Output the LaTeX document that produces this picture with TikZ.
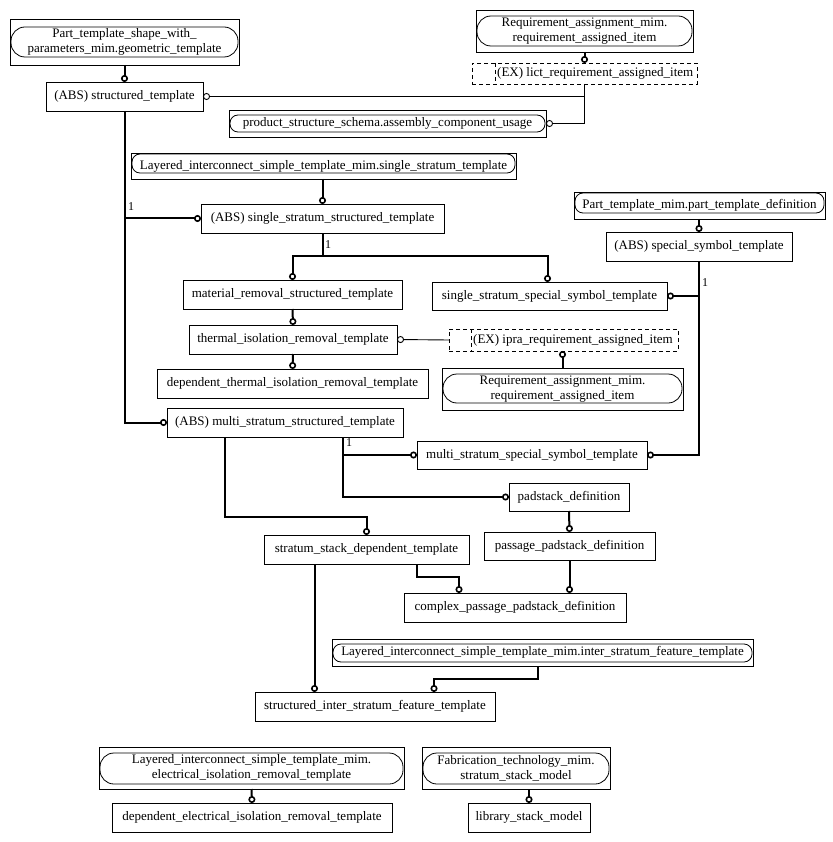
\documentclass[tikz,border=0pt]{standalone}
\usepackage{fontspec}
\setmainfont{Liberation Serif}
\usetikzlibrary{arrows.meta}
\newcommand\mybox[6]{\node[box, minimum width={(#4-#2)*1pt}, minimum height={(#5-#3)*1pt}] (#1) at ({(#2+#4)/2},{-(#3+#5)/2}) {#6};}
\begin{document}
\begin{tikzpicture}[x=1pt,y=1pt,
  box/.style={draw, line width=0.9pt, inner sep=0pt, outer sep=0pt, align=center, font=\fontsize{13}{15}\selectfont},
  pill/.style={line width=0.8pt, rounded corners=8pt},
  bigpill/.style={line width=0.8pt, rounded corners=14pt},
  dbox/.style={draw, line width=0.9pt, dash pattern=on 4pt off 3pt, inner sep=0pt, outer sep=0pt},
  dtext/.style={anchor=west, inner sep=0pt, font=\fontsize{13}{15}\selectfont},
  conn/.style={line width=2pt, -{Circle[open,length=7pt,width=7pt,line width=1.6pt]}},
  tconn/.style={line width=0.9pt, -{Circle[open,length=7pt,width=7pt,line width=0.9pt]}},
  lbl/.style={inner sep=0pt, font=\fontsize{12}{14}\selectfont}]
\path[use as bounding box] (0,0) rectangle (832,-842);

% double boxes
\mybox{geom}{10}{19}{239}{65}{Part\_template\_shape\_with\_\\parameters\_mim.geometric\_template}
\draw[bigpill] (11,-27) rectangle (238,-57);
\mybox{reqt}{476}{10}{693}{52}{Requirement\_assignment\_mim.\\requirement\_assigned\_item}
\draw[bigpill] (477,-16) rectangle (692,-46);
\mybox{acu}{229}{110}{546}{137}{product\_structure\_schema.assembly\_component\_usage}
\draw[pill] (230,-115) rectangle (545,-132);
\mybox{lss}{131}{153}{516}{179}{Layered\_interconnect\_simple\_template\_mim.single\_stratum\_template}
\draw[pill] (132,-154) rectangle (515,-173);
\mybox{ptd}{574}{192}{825}{219}{Part\_template\_mim.part\_template\_definition}
\draw[pill] (575,-193) rectangle (824,-213);
\mybox{reqb}{442}{368}{683}{410}{Requirement\_assignment\_mim.\\requirement\_assigned\_item}
\draw[bigpill] (443,-374) rectangle (682,-403);
\mybox{lisf}{332}{639}{753}{666}{Layered\_interconnect\_simple\_template\_mim.inter\_stratum\_feature\_template}
\draw[pill] (333,-644) rectangle (752,-662);
\mybox{lei}{99}{747}{404}{789}{Layered\_interconnect\_simple\_template\_mim.\\electrical\_isolation\_removal\_template}
\draw[bigpill] (100,-753) rectangle (403,-784);
\mybox{fab}{422}{747}{610}{789}{Fabrication\_technology\_mim.\\stratum\_stack\_model}
\draw[bigpill] (423,-753) rectangle (609,-784);

% plain boxes
\mybox{struct}{46}{82}{203}{111}{(ABS) structured\_template}
\mybox{sss}{201}{204}{444}{233}{(ABS) single\_stratum\_structured\_template}
\mybox{spec}{606}{232}{792}{261}{(ABS) special\_symbol\_template}
\mybox{mat}{183}{280}{402}{309}{material\_removal\_structured\_template}
\mybox{ssst}{432}{282}{667}{310}{single\_stratum\_special\_symbol\_template}
\mybox{therm}{189}{325}{397}{354}{thermal\_isolation\_removal\_template}
\mybox{dtherm}{157}{369}{428}{398}{dependent\_thermal\_isolation\_removal\_template}
\mybox{mst}{167}{408}{403}{437}{(ABS) multi\_stratum\_structured\_template}
\mybox{msst}{417}{441}{647}{469}{multi\_stratum\_special\_symbol\_template}
\mybox{pad}{509}{483}{629}{511}{padstack\_definition}
\mybox{pass}{484}{532}{655}{560}{passage\_padstack\_definition}
\mybox{ssd}{264}{535}{469}{564}{stratum\_stack\_dependent\_template}
\mybox{cpp}{404}{593}{626}{622}{complex\_passage\_padstack\_definition}
\mybox{sisf}{255}{692}{495}{721}{structured\_inter\_stratum\_feature\_template}
\mybox{dei}{112}{803}{392}{832}{dependent\_electrical\_isolation\_removal\_template}
\mybox{lib}{468}{803}{590}{832}{library\_stack\_model}

% dashed boxes
\node[dbox, minimum width=225pt, minimum height=21pt] (lict) at (584.5,-73.5) {};
\draw[line width=0.9pt, dash pattern=on 4pt off 3pt] (495,-63) -- (495,-84);
\node[dtext] (lictt) at (497,-73.5) {(EX) lict\_requirement\_assigned\_item};
\node[dbox, minimum width=229pt, minimum height=22pt] (ipra) at (563.5,-340) {};
\draw[line width=0.9pt, dash pattern=on 4pt off 3pt] (471,-329) -- (471,-351);
\node[dtext] (ipratt) at (473,-340) {(EX) ipra\_requirement\_assigned\_item};

% connectors
\draw[conn] (geom.south) -- (struct.north);
\draw[conn] (struct.south) |- (mst.west);
\draw[conn] (struct.south |- sss.west) -- (sss.west);
\draw[conn] (sss.north |- lss.south) -- (sss.north);
\draw[conn] (sss.south) -- ++(0,-23) -| (mat.north);
\draw[conn] (sss.south) -- ++(0,-23) -| ([xshift=-2pt]ssst.north);
\draw[conn] (mat.south) -- (therm.north);
\draw[conn] (therm.south) -- (dtherm.north);
\draw[tconn] (ipra.west) -- (therm.east);
\draw[conn] (reqb.north) -- (reqb.north |- ipra.south);
\draw[conn] (reqt.south) -- (reqt.south |- lict.north);
\draw[conn] (spec.north |- ptd.south) -- (spec.north);
\draw[conn] (spec.south) |- (msst.east);
\draw[conn] (spec.south |- ssst.east) -- (ssst.east);
\draw[conn] ([xshift=58pt]mst.south) |- (pad.west);
\draw[conn] ([xshift=58pt]mst.south |- msst.west) -- (msst.west);
\draw[conn] ([xshift=-60pt]mst.south) -- ++(0,-80) -| (ssd.north);
\draw[conn] (pad.south) -- (pass.north);
\draw[conn] (pass.south) -- (pass.south |- cpp.north);
\draw[conn] ([xshift=50.5pt]ssd.south) -- ++(0,-13) -| ([xshift=-56pt]cpp.north);
\draw[conn] ([xshift=-52pt]ssd.south) -- ([xshift=-52pt]ssd.south |- sisf.north);
\draw[conn] ([xshift=-4.5pt]lisf.south) -- ++(0,-13) -| ([xshift=59pt]sisf.north);
\draw[conn] (lei.south) -- (dei.north);
\draw[conn] (lib.north |- fab.south) -- (lib.north);
\draw[tconn] (lict.south) |- (acu.east);
\draw[tconn] (lict.south |- struct.east) -- (struct.east);

% labels
\node[lbl] (l1) at (131,-207) {1};
\node[lbl] (l2) at (328,-245) {1};
\node[lbl] (l3) at (705,-283) {1};
\node[lbl] (l4) at (349,-443) {1};
\end{tikzpicture}
\end{document}
